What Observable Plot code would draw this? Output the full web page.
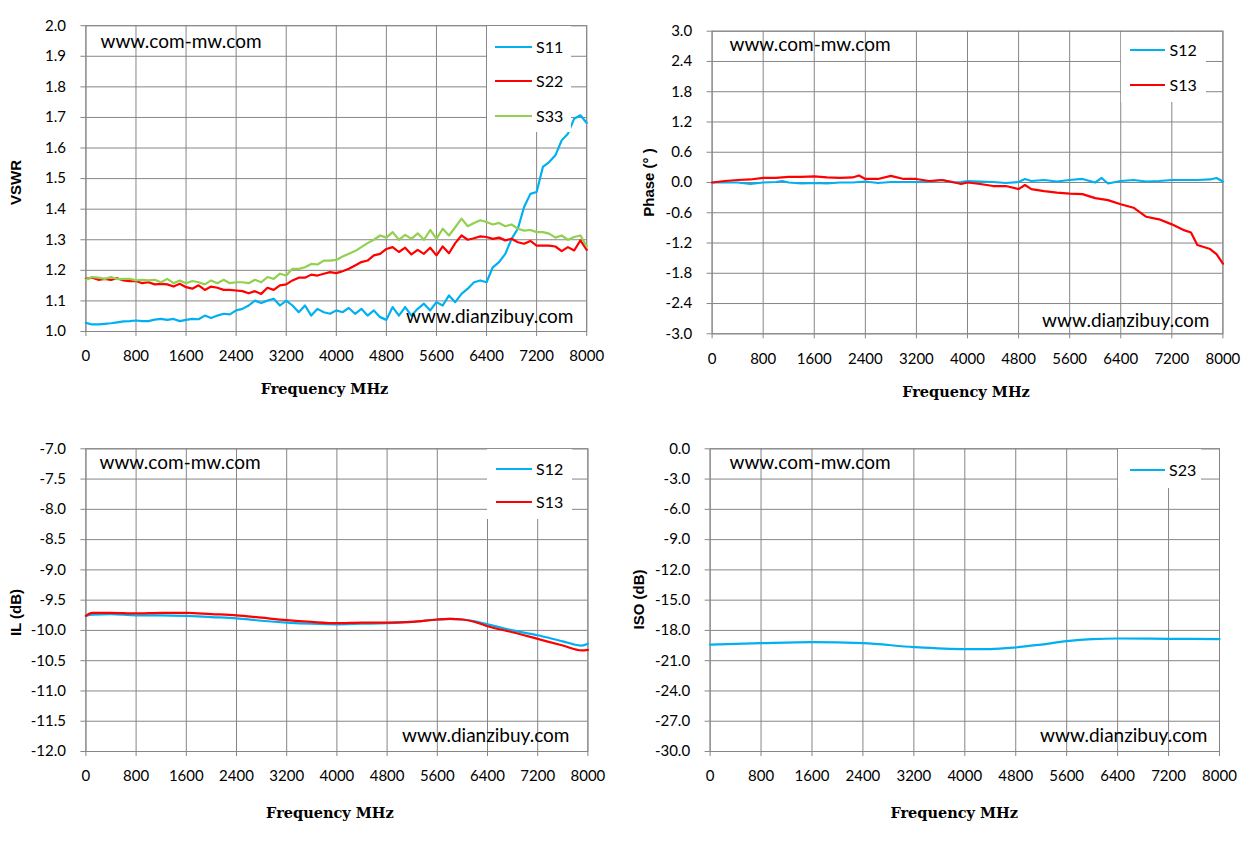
<!DOCTYPE html>
<html><head><meta charset="utf-8">
<script src="https://cdn.jsdelivr.net/npm/d3@7"></script>
<script src="https://cdn.jsdelivr.net/npm/@observablehq/plot@0.6"></script>
<style>
body{margin:0;background:#fff;}
#wrap{position:relative;width:1253px;height:843px;background:#fff;overflow:hidden;}
.pan{position:absolute;}
.leg{position:absolute;background:#fff;}
.leg .sw{position:absolute;height:0;border-top:2.5px solid;}
.leg .lb{position:absolute;font-family:Lato,sans-serif;font-size:16px;line-height:16px;color:#000;white-space:nowrap;}
</style></head><body><div id="wrap"></div>
<script>
// ---------- data ----------
const X_TICKS = [0, 800, 1600, 2400, 3200, 4000, 4800, 5600, 6400, 7200, 8000];
const F100 = [0,100,200,300,400,500,600,700,800,900,1000,1100,1200,1300,1400,1500,1600,1700,1800,1900,2000,2100,2200,2300,2400,2500,2600,2700,2800,2900,3000,3100,3200,3300,3400,3500,3600,3700,3800,3900,4000,4100,4200,4300,4400,4500,4600,4700,4800,4900,5000,5100,5200,5300,5400,5500,5600,5700,5800,5900,6000,6100,6200,6300,6400,6500,6600,6700,6800,6900,7000,7100,7200,7300,7400,7500,7600,7700,7800,7900,8000];

const VSWR_TICKS = [1.0,1.1,1.2,1.3,1.4,1.5,1.6,1.7,1.8,1.9,2.0];
const S11 = [1.028,1.023,1.023,1.025,1.027,1.030,1.033,1.034,1.036,1.034,
  1.034,1.039,1.041,1.038,1.041,1.034,1.038,1.041,1.040,1.052,
  1.044,1.052,1.058,1.056,1.069,1.074,1.085,1.101,1.093,1.101,
  1.107,1.085,1.101,1.085,1.063,1.085,1.052,1.074,1.063,1.058,
  1.069,1.063,1.077,1.058,1.074,1.052,1.069,1.047,1.038,1.080,
  1.052,1.080,1.052,1.074,1.091,1.069,1.096,1.085,1.118,1.096,
  1.123,1.140,1.161,1.167,1.161,1.210,1.227,1.254,1.303,1.336,
  1.407,1.450,1.456,1.538,1.554,1.576,1.625,1.647,1.696,1.707,
  1.682];
const S22 = [1.172,1.176,1.169,1.172,1.169,1.174,1.167,1.165,1.165,1.158,
  1.161,1.154,1.156,1.154,1.147,1.156,1.145,1.140,1.151,1.136,
  1.147,1.143,1.136,1.136,1.134,1.132,1.125,1.132,1.123,1.143,
  1.136,1.151,1.154,1.167,1.176,1.176,1.186,1.183,1.189,1.194,
  1.191,1.197,1.205,1.216,1.227,1.232,1.249,1.254,1.270,1.276,
  1.260,1.274,1.252,1.267,1.254,1.274,1.249,1.278,1.256,1.289,
  1.314,1.300,1.305,1.311,1.309,1.303,1.307,1.298,1.303,1.292,
  1.287,1.296,1.281,1.281,1.281,1.278,1.263,1.276,1.265,1.298,
  1.267];
const S33 = [1.169,1.178,1.176,1.172,1.178,1.171,1.172,1.172,1.167,1.169,
  1.167,1.169,1.161,1.172,1.158,1.167,1.158,1.165,1.161,1.154,
  1.167,1.158,1.169,1.158,1.161,1.161,1.158,1.169,1.161,1.178,
  1.172,1.189,1.183,1.205,1.205,1.210,1.221,1.219,1.232,1.232,
  1.234,1.245,1.254,1.263,1.276,1.289,1.300,1.314,1.307,1.325,
  1.300,1.316,1.303,1.321,1.300,1.332,1.303,1.336,1.314,1.341,
  1.369,1.344,1.355,1.364,1.358,1.350,1.355,1.344,1.350,1.336,
  1.330,1.332,1.325,1.325,1.320,1.307,1.314,1.300,1.309,1.314,
  1.278];

const PHASE_TICKS = [-3.0,-2.4,-1.8,-1.2,-0.6,0.0,0.6,1.2,1.8,2.4,3.0];
const PH_F = [0,200,400,600,800,1000,1100,1200,1400,1600,1800,2000,2200,2300,2400,2600,2800,3000,3200,3400,3600,3800,3900,4000,4200,4400,4600,4800,4900,5000,5200,5400,5600,5800,6000,6100,6200,6400,6600,6800,7000,7200,7400,7500,7600,7800,7900,8000];
const PH_S12 = [0,0,0,-0.03,0,0.01,0.03,0,-0.02,-0.01,-0.02,0,0,0.01,0.02,-0.01,0.01,0.01,0.01,0.02,0.05,0,0.01,0.03,0.02,0.01,-0.01,0.01,0.07,0.03,0.05,0.02,0.05,0.07,0,0.09,-0.02,0.03,0.05,0.02,0.03,0.05,0.05,0.05,0.05,0.06,0.09,0.02];
const PH_S13 = [0,0.03,0.05,0.06,0.09,0.09,0.10,0.11,0.11,0.12,0.10,0.09,0.10,0.14,0.07,0.07,0.13,0.07,0.07,0.03,0.05,0,-0.03,0,-0.03,-0.07,-0.07,-0.13,-0.05,-0.13,-0.17,-0.20,-0.22,-0.23,-0.31,-0.33,-0.35,-0.43,-0.50,-0.68,-0.73,-0.83,-0.95,-0.99,-1.24,-1.32,-1.42,-1.61];

const IL_TICKS = [-12.0,-11.5,-11.0,-10.5,-10.0,-9.5,-9.0,-8.5,-8.0,-7.5,-7.0];
const IL_F = [0,100,400,800,1200,1600,2000,2400,2800,3200,3600,4000,4400,4800,5200,5600,5800,6000,6200,6400,6800,7200,7600,7900,8000];
const IL_S12 = [-9.76,-9.74,-9.73,-9.75,-9.75,-9.76,-9.78,-9.80,-9.84,-9.87,-9.89,-9.90,-9.89,-9.88,-9.86,-9.82,-9.81,-9.82,-9.85,-9.90,-10.00,-10.08,-10.18,-10.25,-10.22];
const IL_S13 = [-9.76,-9.71,-9.71,-9.72,-9.71,-9.71,-9.73,-9.75,-9.79,-9.83,-9.86,-9.88,-9.87,-9.87,-9.86,-9.82,-9.81,-9.82,-9.86,-9.93,-10.03,-10.14,-10.25,-10.33,-10.32];

const ISO_TICKS = [-30.0,-27.0,-24.0,-21.0,-18.0,-15.0,-12.0,-9.0,-6.0,-3.0,0.0];
const ISO_F = [0,800,1600,2400,3200,4000,4400,4800,5200,5600,6000,6400,7200,8000];
const ISO_S23 = [-19.4,-19.26,-19.16,-19.26,-19.65,-19.85,-19.85,-19.69,-19.4,-19.06,-18.86,-18.8,-18.83,-18.86];

const BLUE = "#00b0f0", RED = "#ff0000", GREEN = "#92d050", GRID = "#868686";
const X_TITLE = "Frequency MHz";
const WM1 = "www.com-mw.com", WM2 = "www.dianzibuy.com";

// ---------- layout ----------
const wrap = document.getElementById("wrap");

function panel(cfg) {
  const {box, area, yDomain, yTicks, series, yLabel, yLabelPos, xLabelPos, wm1, wm2, legend, xTickOffset} = cfg;
  const [bl, bt, bw, bh] = box;
  const [x0, x1, y0, y1] = area;
  const cx = (x0 + x1) / 2, cy = (y0 + y1) / 2;
  const lineMarks = series.map(s => Plot.line(s.values, {
    x: (d, i) => s.freqs[i], y: d => d, stroke: s.color, strokeWidth: 2.2,
    curve: s.curve || "linear"
  }));
  const chart = Plot.plot({
    width: bw, height: bh,
    marginLeft: x0 - bl, marginRight: bl + bw - x1,
    marginTop: y0 - bt, marginBottom: bt + bh - y1,
    x: {domain: [0, 8000]},
    y: {domain: yDomain},
    style: {fontFamily: "Lato, sans-serif", fontSize: "15px", color: "#000", background: "transparent", overflow: "visible"},
    marks: [
      Plot.gridX(X_TICKS, {stroke: GRID, strokeOpacity: 1, strokeWidth: 1}),
      Plot.gridY(yTicks, {stroke: GRID, strokeOpacity: 1, strokeWidth: 1}),
      Plot.frame({stroke: GRID, strokeWidth: 1}),
      Plot.axisX({ticks: X_TICKS, tickFormat: d => String(d), tickSize: 5, tickPadding: xTickOffset, label: null,
        stroke: GRID, strokeOpacity: 1, fill: "#000", fontSize: 15, fontFamily: "Lato, sans-serif"}),
      Plot.axisY({ticks: yTicks, tickFormat: d => d.toFixed(1), tickSize: 5, tickPadding: 15, label: null,
        stroke: GRID, strokeOpacity: 1, fill: "#000", fontSize: 15, fontFamily: "Lato, sans-serif"}),
      ...lineMarks,
      Plot.text([yLabel], {text: d => d, frameAnchor: "left", rotate: -90, textAnchor: "middle", lineAnchor: "middle",
        dx: yLabelPos[0] - x0, dy: yLabelPos[1] - cy, fontFamily: "Liberation Sans, Arial, sans-serif",
        fontWeight: "bold", fontSize: 15, fill: "#000"}),
      Plot.text([X_TITLE], {text: d => d, frameAnchor: "bottom", textAnchor: "middle", lineAnchor: "middle",
        dx: xLabelPos[0] - cx, dy: xLabelPos[1] - y1, fontFamily: "DejaVu Serif, serif",
        fontWeight: "bold", fontSize: 14.5, fill: "#000"}),
      Plot.text([WM1], {text: d => d, frameAnchor: "top-left", textAnchor: "start", lineAnchor: "middle",
        dx: wm1[0] - x0, dy: wm1[1] - y0, fontFamily: "Lato, sans-serif", fontSize: 19, fill: "#000"}),
      Plot.text([WM2], {text: d => d, frameAnchor: "bottom-right", textAnchor: "end", lineAnchor: "middle",
        dx: wm2[0] - x1, dy: wm2[1] - y1, fontFamily: "Lato, sans-serif", fontSize: 19, fill: "#000"})
    ]
  });
  const holder = document.createElement("div");
  holder.className = "pan";
  holder.style.left = bl + "px"; holder.style.top = bt + "px";
  holder.appendChild(chart);
  wrap.appendChild(holder);

  // legend (HTML overlay)
  const lg = document.createElement("div");
  lg.className = "leg";
  lg.style.left = legend.l + "px"; lg.style.top = legend.t + "px";
  lg.style.width = (legend.r - legend.l) + "px"; lg.style.height = (legend.b - legend.t) + "px";
  series.forEach((s, i) => {
    const ry = legend.rows[i] - legend.t;
    const sw = document.createElement("div");
    sw.className = "sw";
    sw.style.borderTopColor = s.color;
    sw.style.left = (legend.sw[0] - legend.l) + "px";
    sw.style.width = (legend.sw[1] - legend.sw[0]) + "px";
    sw.style.top = (ry - 1.25) + "px";
    const lb = document.createElement("div");
    lb.className = "lb";
    lb.textContent = s.name;
    lb.style.left = (legend.lx - legend.l) + "px";
    lb.style.top = (ry - 8.5) + "px";
    lg.appendChild(sw); lg.appendChild(lb);
  });
  wrap.appendChild(lg);
}

panel({
  box: [0, 0, 626, 420], area: [85.4, 586.2, 25.2, 331],
  yDomain: [1.0, 2.0], yTicks: VSWR_TICKS, xTickOffset: 14,
  series: [
    {name: "S11", freqs: F100, values: S11, color: BLUE},
    {name: "S22", freqs: F100, values: S22, color: RED},
    {name: "S33", freqs: F100, values: S33, color: GREEN}
  ],
  yLabel: "VSWR", yLabelPos: [16, 182], xLabelPos: [324, 389],
  wm1: [100, 41.7], wm2: [573, 316],
  legend: {l: 487, t: 26, r: 571, b: 132, sw: [495, 532], lx: 536, rows: [47.7, 81.7, 116.7]}
});

panel({
  box: [626, 0, 627, 420], area: [711.6, 1222.4, 30.7, 333.3],
  yDomain: [-3.0, 3.0], yTicks: PHASE_TICKS, xTickOffset: 15,
  series: [
    {name: "S12", freqs: PH_F, values: PH_S12, color: BLUE},
    {name: "S13", freqs: PH_F, values: PH_S13, color: RED}
  ],
  yLabel: "Phase (° )", yLabelPos: [648.3, 182], xLabelPos: [965.5, 391.7],
  wm1: [729, 44], wm2: [1209, 320],
  legend: {l: 1121, t: 31.5, r: 1206, b: 102, sw: [1130, 1165], lx: 1169.5, rows: [50.7, 85]}
});

panel({
  box: [0, 420, 626, 423], area: [85.4, 587.4, 448.3, 751],
  yDomain: [-12.0, -7.0], yTicks: IL_TICKS, xTickOffset: 14,
  series: [
    {name: "S12", freqs: IL_F, values: IL_S12, color: BLUE, curve: "monotone-x"},
    {name: "S13", freqs: IL_F, values: IL_S13, color: RED, curve: "monotone-x"}
  ],
  yLabel: "IL (dB)", yLabelPos: [16, 612], xLabelPos: [329.4, 813.3],
  wm1: [99, 462], wm2: [569, 735],
  legend: {l: 487, t: 449, r: 572, b: 519, sw: [496, 532], lx: 536, rows: [469, 502]}
});

panel({
  box: [626, 420, 627, 423], area: [709.6, 1219, 448.3, 751],
  yDomain: [-30.0, 0.0], yTicks: ISO_TICKS, xTickOffset: 14,
  series: [
    {name: "S23", freqs: ISO_F, values: ISO_S23, color: BLUE, curve: "monotone-x"}
  ],
  yLabel: "ISO (dB)", yLabelPos: [638.2, 599], xLabelPos: [953.7, 813.3],
  wm1: [729, 462], wm2: [1207, 735],
  legend: {l: 1118, t: 449, r: 1201, b: 488, sw: [1129.5, 1165], lx: 1169, rows: [470.7]}
});
</script>
</body></html>
